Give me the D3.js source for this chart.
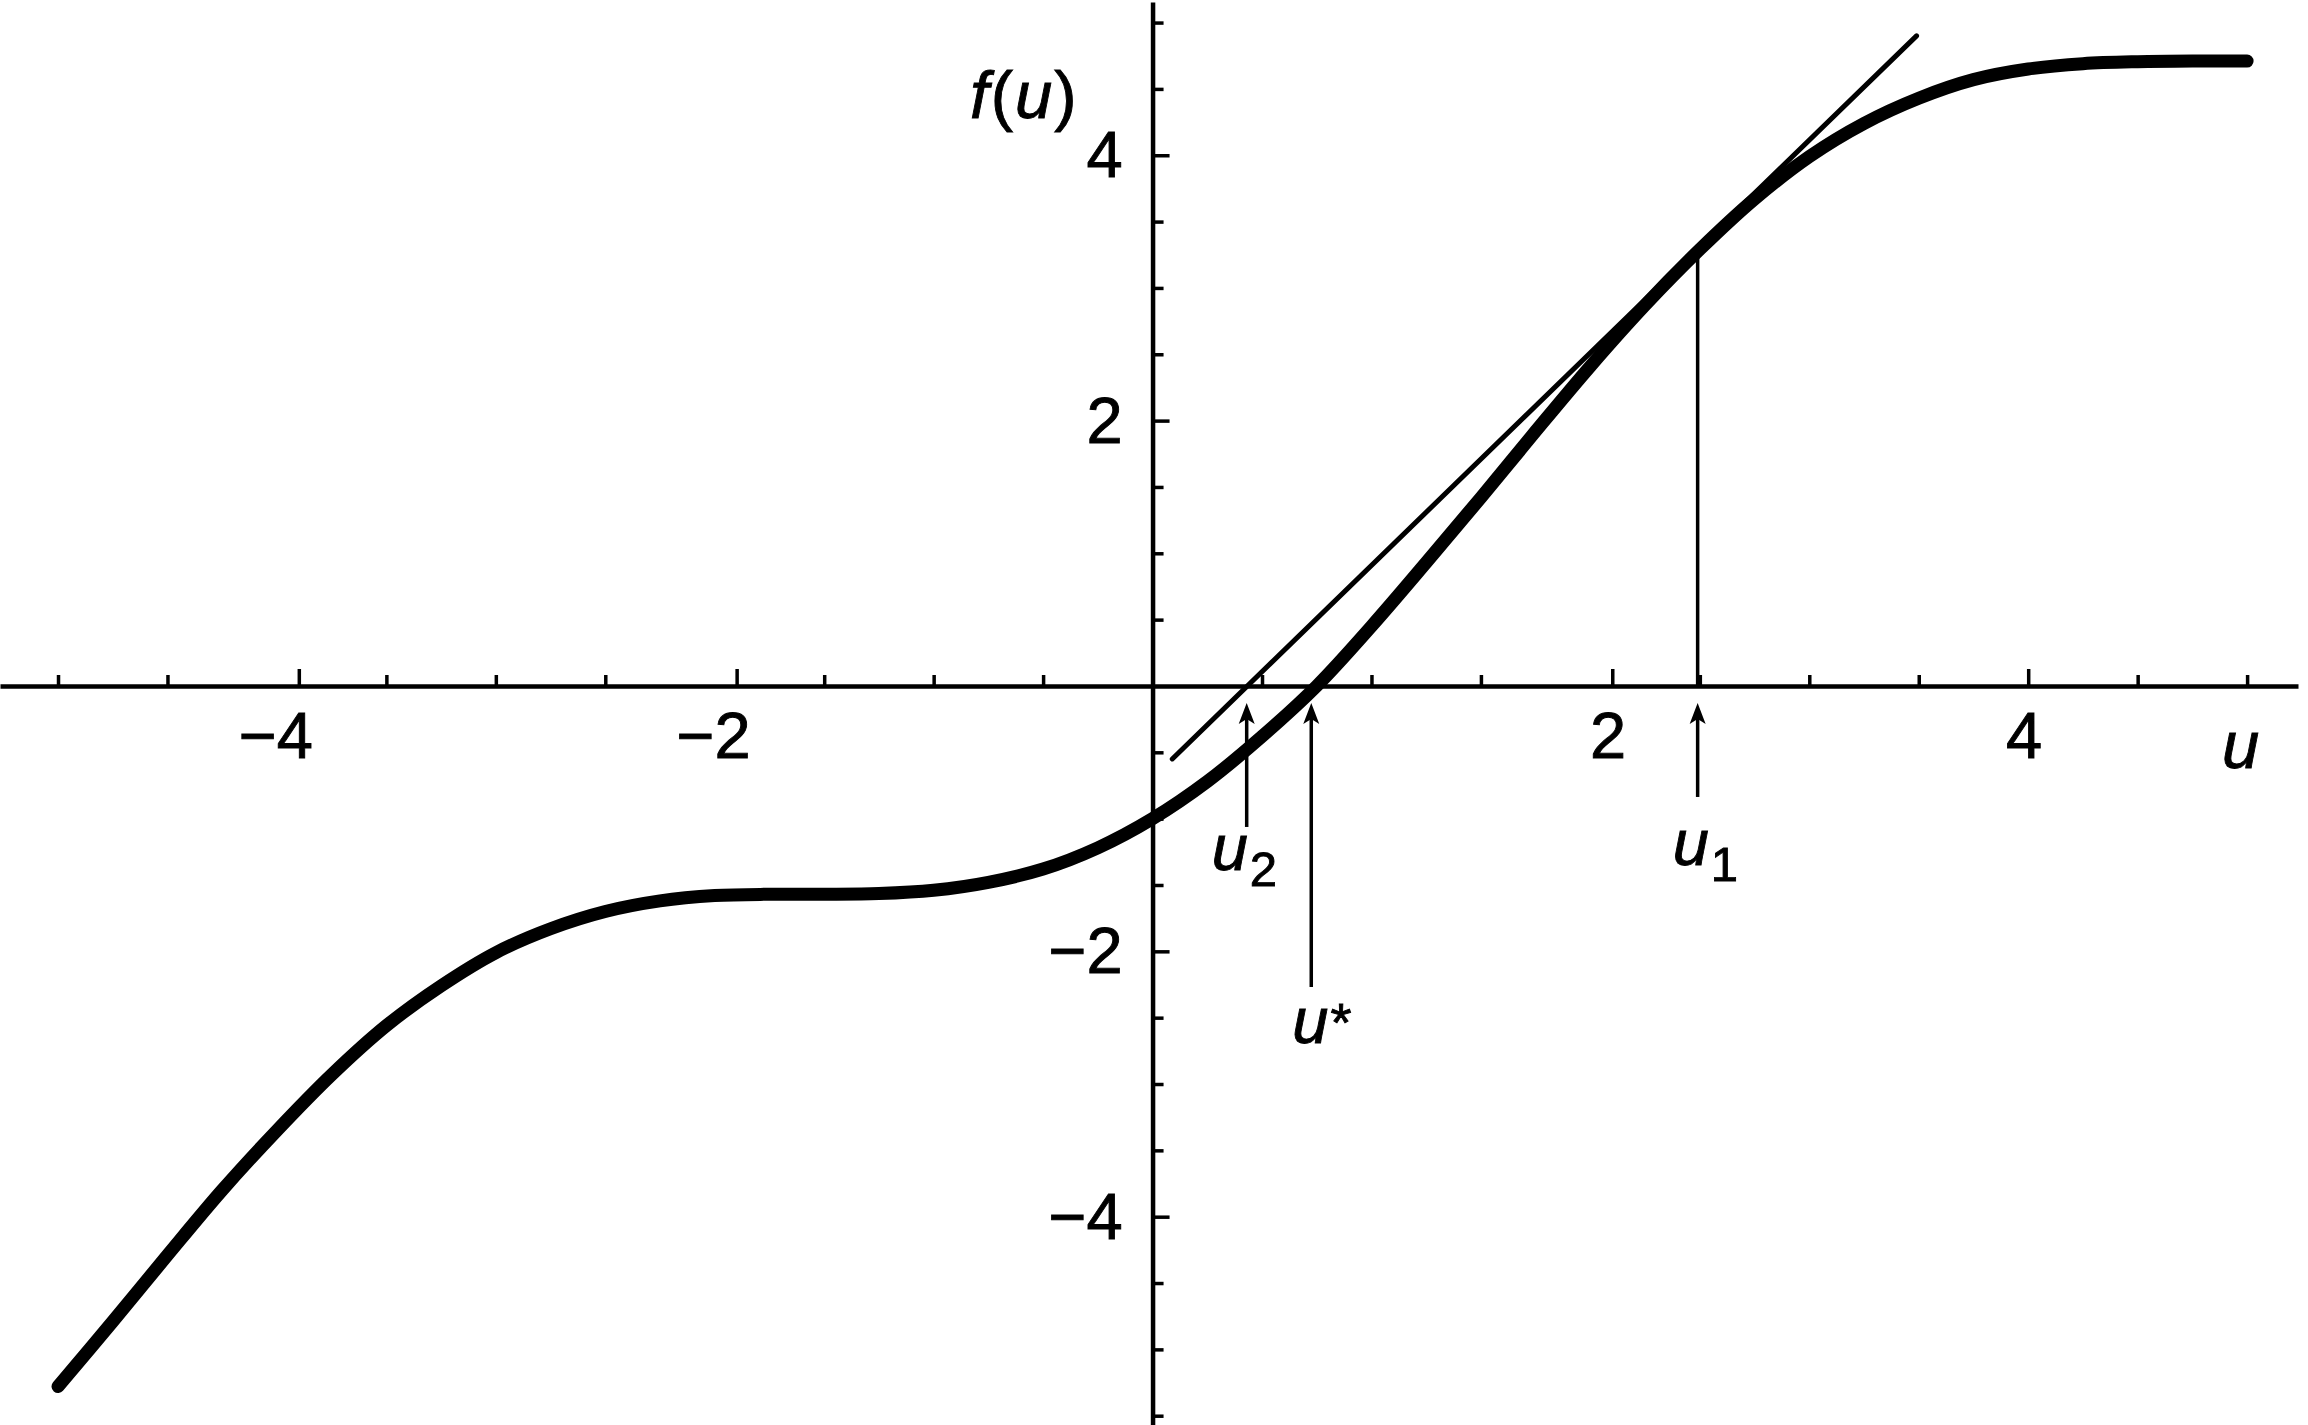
<!DOCTYPE html>
<html>
<head>
<meta charset="utf-8">
<script src="https://cdn.jsdelivr.net/npm/d3@7/dist/d3.min.js"></script>
<style>
  html, body { margin: 0; padding: 0; background: #ffffff; }
  svg { display: block; }
  text { font-family: "Liberation Sans", Arial, Helvetica, sans-serif; fill: #000; stroke: #000; stroke-width: 0.9px; }
</style>
</head>
<body>
<script>
// ---- data ----
const uValues = [-5, -4.75, -4.5, -4.25, -4, -3.75, -3.5, -3.25, -3, -2.75, -2.5, -2.25, -2, -1.75, -1.5, -1.25, -1, -0.75, -0.5, -0.25,
                 0, 0.25, 0.5, 0.75, 1, 1.25, 1.5, 1.75, 2, 2.25, 2.5, 2.75, 3, 3.25, 3.5, 3.75, 4, 4.25, 4.5, 4.75, 5];
const fValues = [-5.28, -4.79, -4.29, -3.80, -3.35, -2.93, -2.56, -2.26, -2.01, -1.83, -1.70, -1.62, -1.58, -1.57, -1.57, -1.565, -1.54, -1.48, -1.38, -1.22,
                 -1.0, -0.72, -0.38, 0.0, 0.45, 0.93, 1.42, 1.92, 2.41, 2.87, 3.29, 3.67, 3.99, 4.24, 4.43, 4.57, 4.65, 4.69, 4.705, 4.71, 4.71];

const tangentU = [0.09, 3.49];
const tangentF = [-0.55, 4.9];

const markerNames = ["u2", "u*", "u1"];
const markerU = [0.43, 0.725, 2.49];
const u1CurveF = 3.25;

const xMinorTicks = [-5, -4.5, -3.5, -3, -2.5, -1.5, -1, -0.5, 0.5, 1, 1.5, 2.5, 3, 3.5, 4.5, 5];
const xMajorTicks = [-3.9, -1.9, 2.1, 4];
const xMajorLabels = ["\u22124", "\u22122", "2", "4"];

const yMinorTicks = [-5.5, -5, -4.5, -3.5, -3, -2.5, -1.5, -1, -0.5, 0.5, 1, 1.5, 2.5, 3, 3.5, 4.5, 5];
const yMajorTicks = [-4, -2, 2, 4];
const yMajorLabels = ["\u22124", "\u22122", "2", "4"];

// ---- drawing ----
const W = 2308, H = 1425;
const svg = d3.select("body").append("svg").attr("width", W).attr("height", H);

const x = d3.scaleLinear().domain([-5.265, 5.2325]).range([0, 2298]);
const y = d3.scaleLinear().domain([-5.57, 5.155]).range([1425, 2]);

function styleAxis(g, width) {
  g.selectAll(".domain").attr("stroke", "#000").attr("stroke-width", 4.5);
  g.selectAll(".tick line").attr("stroke", "#000").attr("stroke-width", width);
}

// x axis
const gxMinor = svg.append("g").attr("transform", `translate(0,${y(0)})`)
  .call(d3.axisBottom(x).tickValues(xMinorTicks).tickSizeInner(-11).tickSizeOuter(0).tickFormat(""));
styleAxis(gxMinor, 3.5);
const gxMajor = svg.append("g").attr("transform", `translate(0,${y(0)})`)
  .call(d3.axisBottom(x).tickValues(xMajorTicks).tickSizeInner(-17).tickSizeOuter(0).tickFormat(""));
gxMajor.select(".domain").remove();
styleAxis(gxMajor, 3.5);

svg.append("g").selectAll("text").data(xMajorTicks).join("text")
  .attr("x", d => x(d) + 14)
  .attr("y", y(0) + 72)
  .attr("text-anchor", "end")
  .attr("font-size", 65)
  .text((d, i) => xMajorLabels[i]);

// y axis
const gyMinor = svg.append("g").attr("transform", `translate(${x(0)},0)`)
  .call(d3.axisLeft(y).tickValues(yMinorTicks).tickSizeInner(-11).tickSizeOuter(0).tickFormat(""));
styleAxis(gyMinor, 3.5);
const gyMajor = svg.append("g").attr("transform", `translate(${x(0)},0)`)
  .call(d3.axisLeft(y).tickValues(yMajorTicks).tickSizeInner(-17).tickSizeOuter(0).tickFormat(""));
gyMajor.select(".domain").remove();
styleAxis(gyMajor, 3.5);

svg.append("g").selectAll("text").data(yMajorTicks).join("text")
  .attr("x", x(0) - 30)
  .attr("y", d => y(d) + 22)
  .attr("text-anchor", "end")
  .attr("font-size", 65)
  .text((d, i) => yMajorLabels[i]);

// axis titles
const ft = svg.append("text").attr("x", 970).attr("y", 118).attr("font-size", 67).attr("letter-spacing", 2);
ft.append("tspan").attr("font-style", "italic").text("f");
ft.append("tspan").text("(");
ft.append("tspan").attr("font-style", "italic").text("u");
ft.append("tspan").text(")");

svg.append("text").attr("x", 2222).attr("y", 768).attr("font-size", 67)
  .attr("font-style", "italic").text("u");

// tangent line
svg.append("path")
  .datum(tangentU.map((u, i) => [u, tangentF[i]]))
  .attr("d", d3.line().x(d => x(d[0])).y(d => y(d[1])))
  .attr("fill", "none").attr("stroke", "#000").attr("stroke-width", 5)
  .attr("stroke-linecap", "round");

// u1 vertical line from curve to axis
svg.append("line")
  .attr("x1", x(markerU[2])).attr("x2", x(markerU[2]))
  .attr("y1", y(u1CurveF)).attr("y2", y(0))
  .attr("stroke", "#000").attr("stroke-width", 3.5);

// main curve
svg.append("path")
  .datum(uValues.map((u, i) => [u, fValues[i]]))
  .attr("d", d3.line().x(d => x(d[0])).y(d => y(d[1])).curve(d3.curveCatmullRom.alpha(0.5)))
  .attr("fill", "none").attr("stroke", "#000").attr("stroke-width", 13)
  .attr("stroke-linecap", "round").attr("stroke-linejoin", "round");

// arrows with labels
const arrowStyle = [
  { tail: 141, lx: -35, ly: 184, sub: "2", subMode: "sub" },
  { tail: 301, lx: -19, ly: 357, sub: "*", subMode: "sup" },
  { tail: 111, lx: -25, ly: 179, sub: "1", subMode: "sub" }
];
const tipY = y(0) + 17;
markerU.forEach((u, i) => {
  const s = arrowStyle[i];
  const ax = x(u);
  svg.append("line")
    .attr("x1", ax).attr("x2", ax)
    .attr("y1", tipY + 10).attr("y2", y(0) + s.tail)
    .attr("stroke", "#000").attr("stroke-width", 3.5);
  svg.append("path")
    .attr("d", `M${ax},${tipY} L${ax + 8},${tipY + 21} L${ax},${tipY + 16} L${ax - 8},${tipY + 21} Z`)
    .attr("fill", "#000");
  const t = svg.append("text").attr("x", ax + s.lx).attr("y", y(0) + s.ly).attr("font-size", 65);
  t.append("tspan").attr("font-style", "italic").text("u");
  if (s.subMode === "sub") {
    t.append("tspan").attr("font-size", 49).attr("dx", 2).attr("dy", 16).text(s.sub);
  } else {
    t.append("tspan").attr("font-size", 54).attr("dx", 2).attr("dy", -2).text(s.sub);
  }
});
</script>
</body>
</html>
